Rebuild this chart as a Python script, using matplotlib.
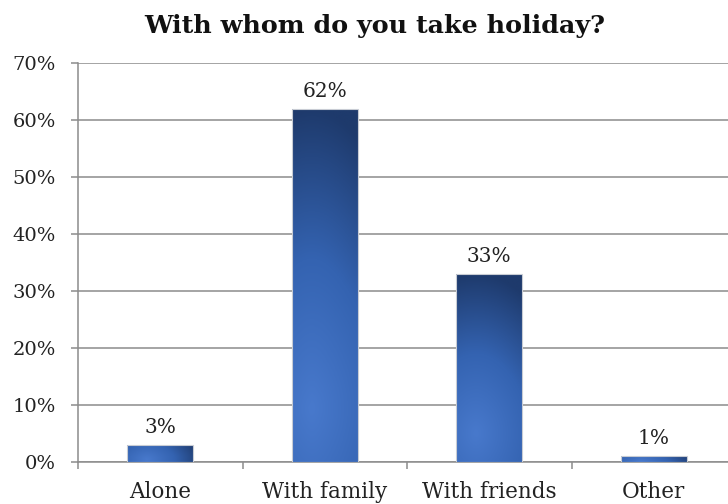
import matplotlib.pyplot as plt
import numpy as np
from matplotlib.colors import LinearSegmentedColormap
from matplotlib.patches import Rectangle

plt.rcParams['font.family'] = ['DejaVu Serif']

categories = ['Alone', 'With family', 'With friends', 'Other']
shares = [3, 62, 33, 1]
y_ticks = [0, 10, 20, 30, 40, 50, 60, 70]

# light lower-left to dark edges, like the office "gradient fill" on the bars
bar_cmap = LinearSegmentedColormap.from_list('bars', ['#4879cc', '#3463b1', '#1e3a6c'])
grid_col = '#8c8c8c'

fig = plt.figure(figsize=(7.28, 5.04), dpi=100)
ax_w, ax_h = 658, 399
ax = fig.add_axes([78 / 728, 42 / 504, ax_w / 728, ax_h / 504])

bw = 0.4
gx, gy = np.meshgrid(np.linspace(0, 1, 80), np.linspace(0, 1, 240))

for i, v in enumerate(shares):
    x0 = i - bw / 2
    # bar size in pixels, so the shading follows the longer side
    pw = bw / 4 * ax_w
    ph = v / 70 * ax_h
    r_pix = np.hypot((gx - 0.3) * pw, (gy - 0.15) * ph) / (0.85 * max(pw, ph))
    r_norm = np.hypot(gx - 0.3, gy - 0.15) / 0.85
    shade = np.clip(0.75 * r_pix + 0.25 * r_norm, 0, 1)
    im = ax.imshow(shade, cmap=bar_cmap, vmin=0, vmax=1, extent=[x0, x0 + bw, 0, v],
                   origin='lower', aspect='auto', zorder=3, interpolation='bilinear')
    rect = Rectangle((x0, 0), bw, v, fill=False, edgecolor='#c8ccd4', lw=0.8, zorder=4)
    ax.add_patch(rect)
    im.set_clip_path(rect)
    ax.text(i, v + 1.4, f'{v}%', ha='center', va='bottom', fontsize=14.5, color='#222222', zorder=5)

ax.set_xlim(-0.5, 3.5)
ax.set_ylim(0, 70)

ax.set_yticks(y_ticks)
ax.set_yticklabels([f'{t}%' for t in y_ticks])
ax.yaxis.grid(True, color=grid_col, lw=1.1, zorder=0)
ax.set_axisbelow(True)

ax.set_xticks(range(len(categories)))
ax.set_xticklabels(categories)
ax.set_xticks([-0.5, 0.5, 1.5, 2.5, 3.5], minor=True)
ax.tick_params(axis='x', which='major', length=0, pad=14, labelsize=15.5, labelcolor='#222222')
ax.tick_params(axis='x', which='minor', length=5, width=1.1, color=grid_col, direction='out')
ax.tick_params(axis='y', length=5, width=1.1, color=grid_col, pad=11, labelsize=14, labelcolor='#222222')

for side in ['top', 'right']:
    ax.spines[side].set_visible(False)
for side in ['left', 'bottom']:
    ax.spines[side].set_color(grid_col)
    ax.spines[side].set_linewidth(1.1)

fig.text(0.515, 0.948, 'With whom do you take holiday?', ha='center', va='center',
         fontsize=18.3, fontweight='bold', color='#111111')

fig.savefig('out.png', dpi=100)
